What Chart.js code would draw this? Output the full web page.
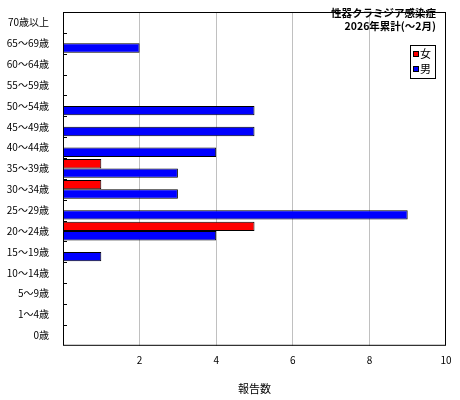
<!DOCTYPE html>
<html><head><meta charset="utf-8">
<script src="https://cdn.jsdelivr.net/npm/chart.js"></script>
<style>body{margin:0;background:#fff}#w{width:460px;height:400px}</style>
</head><body><div id="w"><canvas id="c"></canvas></div>
<script>
const categories=["70歳以上","65～69歳","60～64歳","55～59歳","50～54歳","45～49歳","40～44歳","35～39歳","30～34歳","25～29歳","20～24歳","15～19歳","10～14歳","5～9歳","1～4歳","0歳"];
const female=[0,0,0,0,0,0,0,1,1,0,5,0,0,0,0,0];
const male=[0,2,0,0,5,5,4,3,3,9,4,1,0,0,0,0];
const xTicks=[2,4,6,8,10];
const F='"Noto Sans CJK JP", sans-serif';
const deco={id:'deco',afterDraw(ch){
 const c=ch.ctx,a=ch.chartArea,y=ch.scales.y;
 c.save();c.strokeStyle='#000';c.lineWidth=1;
 for(let i=1;i<categories.length;i++){const p=Math.round((y.getPixelForValue(i-1)+y.getPixelForValue(i))/2)+0.5;c.beginPath();c.moveTo(a.left,p);c.lineTo(a.left+4,p);c.stroke();}
 c.strokeRect(a.left+0.5,a.top+0.5,a.width-1,a.height-1);
 c.fillStyle='#000';c.font='bold 10.5px '+F;c.textAlign='right';c.textBaseline='top';
 c.fillText('性器クラミジア感染症',a.right-10,8);c.fillText('2026年累計(～2月)',a.right-10,21);
 const bx=a.right-36,by=45,bw=25,bh=33;c.fillStyle='#fff';c.fillRect(bx,by,bw,bh);c.strokeRect(bx+0.5,by+0.5,bw,bh);
 c.font='11px '+F;c.textAlign='left';c.textBaseline='middle';
 [['#ff0000','女'],['#0000ff','男']].forEach((l,i)=>{const yy=by+9+i*15;c.fillStyle=l[0];c.fillRect(bx+4,yy-2,4,4);c.strokeStyle='#000';c.strokeRect(bx+3.5,yy-2.5,5,5);c.fillStyle='#000';c.fillText(l[1],bx+10,yy);});
 c.restore();}};
new Chart(document.getElementById('c'),{type:'bar',
data:{labels:categories,datasets:[
 {label:'女',data:female,backgroundColor:'#ff0000',borderColor:'#000',borderWidth:1,borderSkipped:false},
 {label:'男',data:male,backgroundColor:'#0000ff',borderColor:'#000',borderWidth:1,borderSkipped:false}]},
options:{indexAxis:'y',responsive:true,maintainAspectRatio:false,animation:false,
 layout:{padding:{left:0,right:14,top:5,bottom:1}},
 plugins:{legend:{display:false},tooltip:{enabled:false}},
 datasets:{bar:{categoryPercentage:0.9,barPercentage:1}},
 scales:{
  x:{min:0,max:10,afterBuildTicks(s){s.ticks=xTicks.map(v=>({value:v}));},
   grid:{color:c=>c.tick.value===10?'rgba(0,0,0,0)':'#c0c0c0',drawTicks:false},border:{display:false},
   ticks:{color:'#000',font:{size:10,family:F},padding:8},
   title:{display:true,text:'報告数',color:'#000',font:{size:11,family:F},padding:{top:8}}},
  y:{afterFit(s){s.width=63;},grid:{display:false},border:{display:false},
   ticks:{color:'#000',font:{size:10,family:F},padding:6}}}},
plugins:[deco]});
</script></body></html>
